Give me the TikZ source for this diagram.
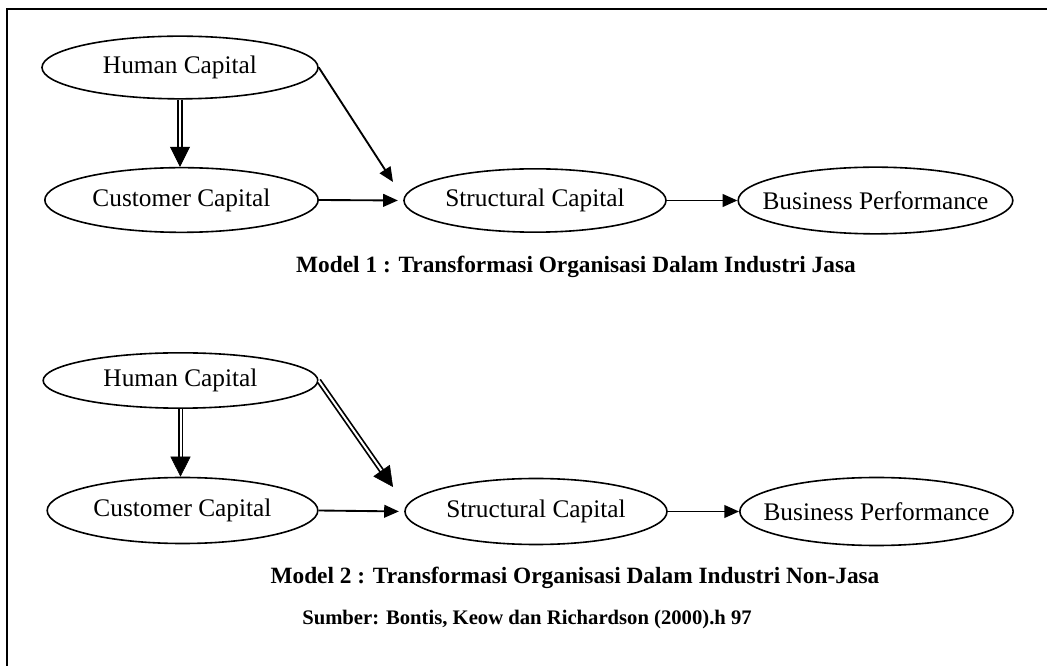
\documentclass[tikz,border=0pt]{standalone}
\usepackage{fontspec}
\setmainfont{Liberation Serif}
\usetikzlibrary{arrows.meta,shapes.geometric,calc}
\newcommand\ctxt[1]{\makebox[0pt]{#1}}
\begin{document}
\begin{tikzpicture}[x=0.75pt,y=-0.75pt,
  ell/.style={draw, ellipse, line width=1.2pt, inner sep=0pt, font=\fontsize{19pt}{22pt}\selectfont},
  captxt/.style={font=\fontsize{17.5pt}{20pt}\selectfont\bfseries, anchor=base, inner sep=0pt},
  srctxt/.style={font=\fontsize{15.5pt}{18pt}\selectfont\bfseries, anchor=base west, inner sep=0pt},
  arr/.style={line width=1.4pt, -{Triangle[length=11pt,width=9.5pt]}},
  dshaft/.style={double, double distance=1.5pt, line width=1.3pt},
  dtip/.style={line width=0.4pt, -{Triangle[length=15pt,width=15pt]}},
]
\useasboundingbox (0,0) rectangle (1047,666);
\draw[line width=1.6pt] (7,666) -- (7,9) -- (1047,9);

% Model 1
\node[ell, minimum width=207pt, minimum height=47pt] (hc1) at (180,67.5) {\ctxt{Human Capital}};
\node[ell, minimum width=205pt, minimum height=48.5pt] (cc1) at (181.5,200) {\ctxt{Customer Capital}};
\node[ell, minimum width=196.5pt, minimum height=47.5pt] (sc1) at (535,200.5) {\ctxt{Structural Capital}};
\node[ell, minimum width=206pt, minimum height=50pt] (bp1) at (875.5,200.5) {\ctxt{Business Performance}};
\coordinate (t1) at (393,182);
\coordinate (v1) at (hc1.south |- cc1.north);

\draw[dshaft] (hc1.south) -- ($(v1)!12pt!(hc1.south)$);
\draw[dtip] ($(v1)!15pt!(hc1.south)$) -- (v1);
\draw[arr] (hc1.east) -- (t1);
\draw[arr, shorten >=4pt] (cc1.east) -- (sc1.west);
\draw[arr] (sc1.east) -- (bp1.west);

\node[captxt] (cap1) at (576,273) {Model 1 : Transformasi Organisasi Dalam Industri Jasa};

% Model 2
\node[ell, minimum width=206pt, minimum height=41.5pt] (hc2) at (180.5,380.5) {\ctxt{Human Capital}};
\node[ell, minimum width=203pt, minimum height=49.5pt] (cc2) at (182.5,510.5) {\ctxt{Customer Capital}};
\node[ell, minimum width=196.5pt, minimum height=49.5pt] (sc2) at (536,511.5) {\ctxt{Structural Capital}};
\node[ell, minimum width=205pt, minimum height=51pt] (bp2) at (876.5,511.5) {\ctxt{Business Performance}};
\coordinate (t2) at (393,487);
\coordinate (v2) at (hc2.south |- cc2.north);

\draw[dshaft] (hc2.south) -- ($(v2)!12pt!(hc2.south)$);
\draw[dtip] ($(v2)!15pt!(hc2.south)$) -- (v2);
\draw[dshaft] (hc2.east) -- ($(t2)!12pt!(hc2.east)$);
\draw[dtip] ($(t2)!15pt!(hc2.east)$) -- (t2);
\draw[arr, shorten >=4pt] (cc2.east) -- (sc2.west);
\draw[arr] (sc2.east) -- (bp2.west);

\node[captxt] (cap2) at (575,584) {Model 2 : Transformasi Organisasi Dalam Industri Non-Jasa};
\node[srctxt] (src) at (302,624) {Sumber: Bontis, Keow dan Richardson (2000).h 97};
\end{tikzpicture}
\end{document}
